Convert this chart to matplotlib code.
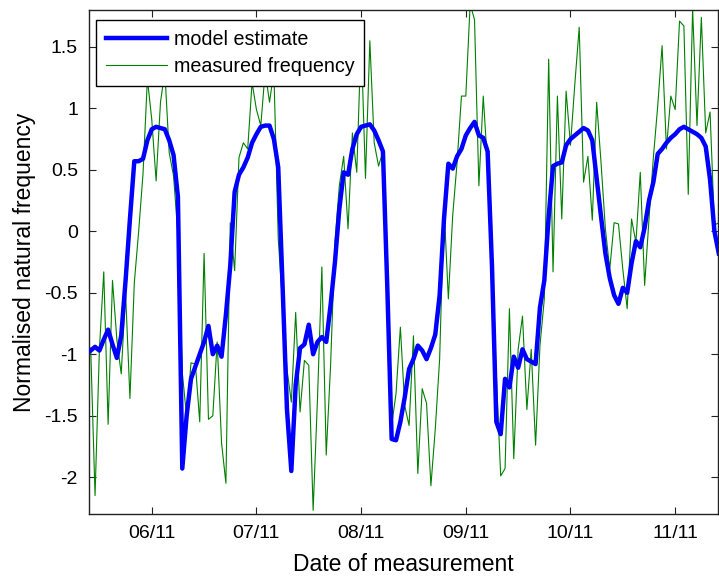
import matplotlib
matplotlib.use("Agg")
import matplotlib.pyplot as plt
import matplotlib.dates as mdates
import numpy as np

plt.rcParams.update({
    'font.family': ['Liberation Sans', 'DejaVu Sans'],
    'font.size': 14,
    'xtick.direction': 'in',
    'ytick.direction': 'in',
    'xtick.major.size': 5,
    'ytick.major.size': 5,
    'xtick.top': True,
    'ytick.right': True,
})

# hourly samples starting 05/11 10:00
start_time = np.datetime64('2011-11-05T10:00')
n_hours = 145

model_estimate = [
    -0.97, -0.94, -0.97, -0.88, -0.80, -0.92, -1.03, -0.85, -0.40, 0.10,
    0.57, 0.57, 0.59, 0.74, 0.83, 0.85, 0.84, 0.83, 0.74, 0.62,
    0.28, -1.93, -1.50, -1.20, -1.10, -1.00, -0.90, -0.77, -1.00, -0.93,
    -1.02, -0.68, -0.28, 0.32, 0.46, 0.52, 0.60, 0.72, 0.79, 0.85,
    0.86, 0.86, 0.75, 0.52, -0.45, -1.45, -1.95, -1.25, -0.95, -0.92,
    -0.76, -1.00, -0.90, -0.86, -0.90, -0.60, -0.25, 0.18, 0.48, 0.46,
    0.67, 0.79, 0.85, 0.86, 0.87, 0.82, 0.74, 0.65, -0.45, -1.69,
    -1.70, -1.55, -1.35, -1.12, -1.04, -0.93, -0.97, -1.04, -0.95, -0.84,
    -0.52, 0.10, 0.55, 0.51, 0.61, 0.67, 0.78, 0.84, 0.89, 0.78,
    0.76, 0.65, -0.28, -1.55, -1.65, -1.20, -1.27, -1.02, -1.11, -0.96,
    -1.04, -1.06, -1.08, -0.62, -0.40, 0.12, 0.53, 0.55, 0.56, 0.70,
    0.75, 0.78, 0.81, 0.84, 0.82, 0.74, 0.43, 0.12, -0.18, -0.38,
    -0.52, -0.59, -0.46, -0.50, -0.26, -0.08, -0.13, 0.03, 0.25, 0.40,
    0.63, 0.67, 0.72, 0.76, 0.79, 0.83, 0.85, 0.83, 0.81, 0.79,
    0.76, 0.69, 0.42, 0.00, -0.18,
]

measured_frequency = [
    -0.95, -2.15, -0.96, -0.33, -1.57, -0.40, -0.88, -1.16, -0.50, -1.36,
    -0.42, 0.00, 0.47, 1.24, 0.91, 0.41, 1.05, 1.30, 0.64, 0.45,
    -0.03, -1.15, -1.51, -1.07, -1.08, -1.55, -0.18, -1.53, -1.50, -0.90,
    -1.72, -2.05, 0.07, -0.32, 0.60, 0.72, 0.67, 1.21, 0.99, 0.86,
    1.30, 1.05, 1.30, -0.06, -0.60, -1.12, -1.39, -0.66, -1.47, -1.05,
    -1.09, -2.27, -1.36, -0.29, -1.82, -1.09, -0.09, 0.37, 0.61, 0.02,
    0.80, 0.48, 1.58, 0.43, 1.55, 0.72, 0.53, 0.65, -0.31, -1.58,
    -1.32, -0.78, -1.42, -1.58, -0.85, -1.97, -1.28, -1.40, -2.07, -1.61,
    -1.04, 0.21, -0.55, 0.13, 0.56, 1.10, 1.10, 1.85, 1.72, 0.37,
    1.10, 0.53, -0.40, -1.17, -1.99, -1.93, -0.63, -1.85, -0.96, -0.69,
    -1.45, -0.96, -1.74, -0.93, -0.55, 1.40, -0.33, 1.10, 0.10, 1.14,
    0.70, 1.20, 1.66, 0.40, 0.61, 0.09, 1.05, 0.56, 0.02, -0.31,
    0.07, 0.06, -0.31, -0.63, 0.10, -0.09, 0.48, -0.44, 0.10, 0.60,
    1.02, 1.51, 0.67, 1.10, 0.99, 1.71, 1.67, 0.30, 1.81, 0.86,
    1.74, 0.80, 0.97, 0.05, 0.07,
]

times = start_time + np.arange(n_hours) * np.timedelta64(1, 'h')
times = times.astype('datetime64[m]').astype(object)

fig = plt.figure(figsize=(7.19, 5.76), dpi=100)
ax = fig.add_axes([0.1238, 0.1076, 0.8755, 0.875])

ax.plot(times, model_estimate, color=(0, 0, 1), linewidth=3.2,
        label='model estimate', zorder=3)
ax.plot(times, measured_frequency, color=(0, 0.5, 0), linewidth=0.8,
        label='measured frequency', zorder=2)

ax.set_xlim(np.datetime64('2011-11-05T09:37').astype(object),
            np.datetime64('2011-11-11T09:56').astype(object))
ax.set_ylim(-2.3, 1.8)
ax.set_yticks([-2, -1.5, -1, -0.5, 0, 0.5, 1, 1.5])
ax.set_yticklabels(['-2', '-1.5', '-1', '-0.5', '0', '0.5', '1', '1.5'])
ax.xaxis.set_major_locator(mdates.DayLocator())
ax.xaxis.set_major_formatter(mdates.DateFormatter('%d/%m'))

ax.tick_params(axis='both', pad=8, width=0.8, colors='#222222',
               labelcolor='black')
for spine in ax.spines.values():
    spine.set_linewidth(1.0)
    spine.set_color('#222222')

ax.set_xlabel('Date of measurement', fontsize=16.5, labelpad=8)
ax.set_ylabel('Normalised natural frequency', fontsize=16.5, labelpad=6)

leg = ax.legend(loc='upper left', bbox_to_anchor=(0.011, 0.98),
                borderaxespad=0, fancybox=False, framealpha=1,
                edgecolor='black', handlelength=3.1, handletextpad=0.35,
                labelspacing=0.4, borderpad=0.5, fontsize=14.2)
leg.get_frame().set_linewidth(1.0)

fig.savefig('out.png', dpi=100)
